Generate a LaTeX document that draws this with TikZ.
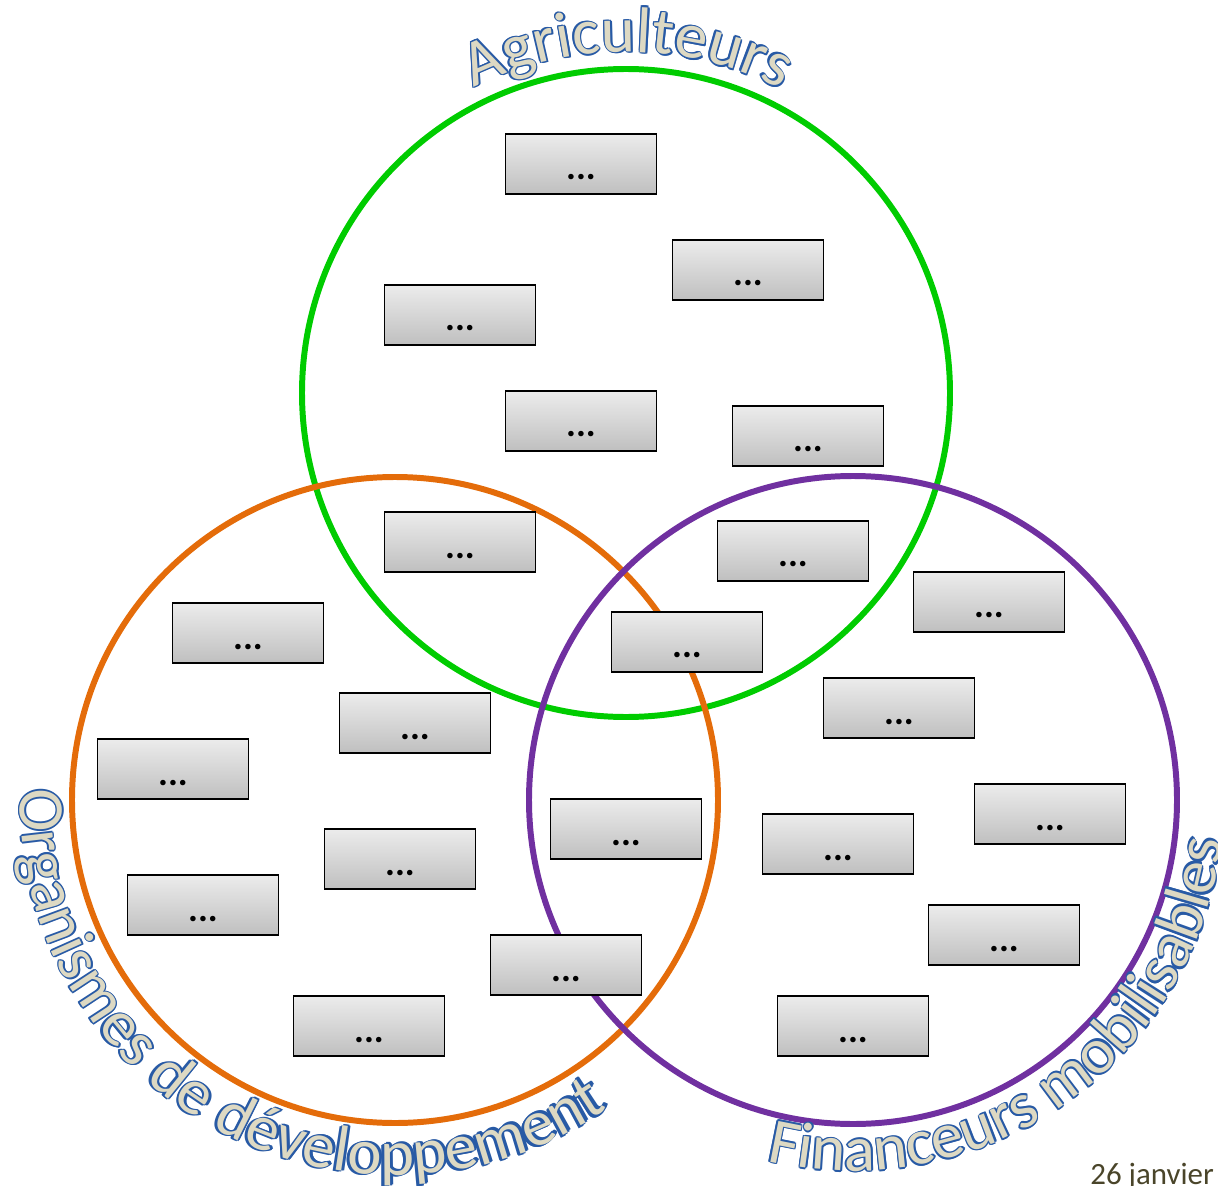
\documentclass[tikz,border=0pt]{standalone}
\usepackage{fontspec}
\setmainfont{Carlito}
\usepackage{tikz}
\usetikzlibrary{calc}
\usetikzlibrary{decorations.text}
\definecolor{agrigreen}{RGB}{0,204,0}
\definecolor{orgorange}{RGB}{228,108,10}
\definecolor{finpurple}{RGB}{112,48,160}
\definecolor{wafill}{RGB}{221,217,195}
\definecolor{waline}{RGB}{40,90,165}
\definecolor{dategray}{RGB}{74,69,42}
\newcommand{\wafont}{\fontsize{37}{40}\selectfont}

\begin{document}
\begin{tikzpicture}[x=0.02cm,y=-0.02cm,
  ring/.style={line width=3.4pt},
  card/.style={draw=black,line width=1.1pt,top color=gray!15,bottom color=gray!50,
    minimum width=3.02cm,minimum height=1.2cm,inner sep=0pt,
    text height=0.64cm,text depth=0pt,font=\fontsize{21}{21}\selectfont\bfseries},
  wordart/.style={decorate,decoration={text along path,text={|\wafont|#1},text color=waline}}]
  \useasboundingbox (0,0) rectangle (1218,1186);

  % the three sets
  \coordinate (agc) at (626,393);
  \coordinate (orc) at (395,800);
  \coordinate (fnc) at (853,800);
  \draw[ring,agrigreen] (agc) circle (324);
  \draw[ring,orgorange] (orc) circle (323);
  \draw[ring,finpurple] (fnc) circle (324);

  % titles: blue copies a little off the arc, then the beige text
  \foreach \dr/\dt in {1.5/0,-1.5/0,0/0.25,0/-0.25,1.1/0.18,1.1/-0.18,-1.1/0.18,-1.1/-0.18}{
    \path[wordart={Agriculteurs}]
      ($(agc)+({-116.5+(\dt)}:{341+(\dr)})$)
      arc[start angle={-116.5+(\dt)},end angle=-20,radius={341+(\dr)}];
    \path[wordart={Organismes de développement}]
      ($(orc)+({181.6-(\dt)}:{375+(\dr)})$)
      arc[start angle={181.6-(\dt)},end angle=10,radius={375+(\dr)}];
    \path[wordart={Financeurs mobilisables}]
      ($(fnc)+({103.5-(\dt)}:{371+(\dr)})$)
      arc[start angle={103.5-(\dt)},end angle=-40,radius={371+(\dr)}];
  }
  \path[wordart={Agriculteurs},decoration={text color=wafill}]
    ($(agc)+(-116.5:341)$) arc[start angle=-116.5,end angle=-20,radius=341];
  \path[wordart={Organismes de développement},decoration={text color=wafill}]
    ($(orc)+(181.6:375)$) arc[start angle=181.6,end angle=10,radius=375];
  \path[wordart={Financeurs mobilisables},decoration={text color=wafill}]
    ($(fnc)+(103.5:371)$) arc[start angle=103.5,end angle=-40,radius=371];

  % boxes
  \node[card] (ag1) at (581,164) {...};
  \node[card] (ag2) at (748,270) {...};
  \node[card] (ag3) at (460,315) {...};
  \node[card] (ag4) at (581,421) {...};
  \node[card] (ag5) at (808,436) {...};
  \node[card] (agor) at (460,542) {...};
  \node[card] (agfi) at (793,551) {...};
  \node[card] (fi1) at (989,602) {...};
  \node[card] (all) at (687,642) {...};
  \node[card] (or1) at (248,633) {...};
  \node[card] (or2) at (415,723) {...};
  \node[card] (fi2) at (899,708) {...};
  \node[card] (or3) at (173,769) {...};
  \node[card] (orfi1) at (626,829) {...};
  \node[card] (fi3) at (1050,814) {...};
  \node[card] (or4) at (400,859) {...};
  \node[card] (fi4) at (838,844) {...};
  \node[card] (or5) at (203,905) {...};
  \node[card] (fi5) at (1004,935) {...};
  \node[card] (orfi2) at (566,965) {...};
  \node[card] (or6) at (369,1026) {...};
  \node[card] (fi6) at (853,1026) {...};

  \node[anchor=base west,inner sep=0pt,text=dategray,font=\fontsize{17.6}{20}\selectfont]
    (date) at (1090,1184) {26 janvier};
\end{tikzpicture}
\end{document}
